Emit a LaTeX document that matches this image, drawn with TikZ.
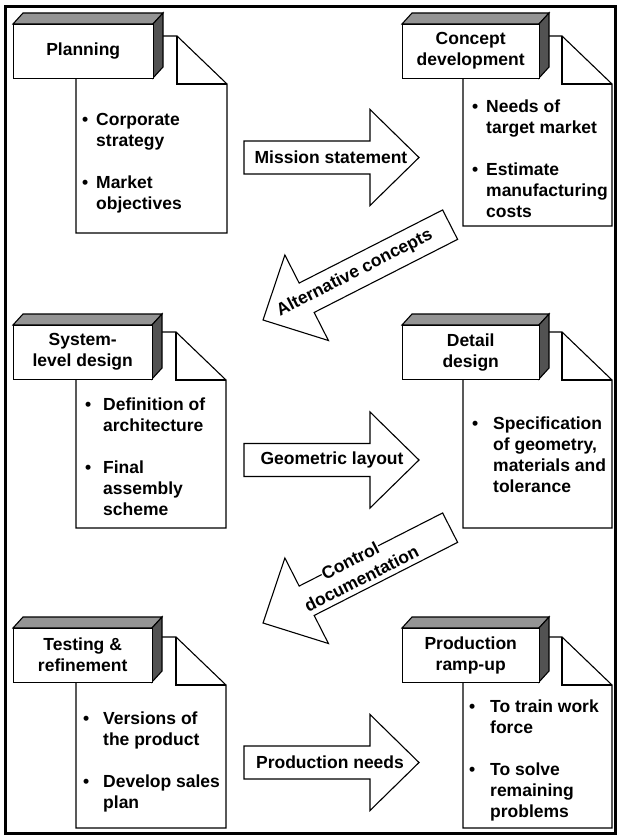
\documentclass[tikz,border=0pt]{standalone}
\usepackage{fontspec}
\setmainfont{Liberation Sans}
\newlength{\bulw}
\newcommand{\itm}[1]{\makebox[\bulw][l]{\textbullet}#1}
\newcommand{\cnt}[1]{\hspace*{\bulw}#1}
% stage: #1 name, #2/#3 front left/right, #4 front top, #5/#6 page left/right, #7 page top, #8 page bottom, #9 title
\newcommand{\stage}[9]{%
  \draw[edge, fill=white] (#5,#7) -- ({#6-50},#7) -- (#6,{#7+48}) -- (#6,#8) -- (#5,#8) -- cycle;
  \draw[edge] ({#6-50},#7) -- ({#6-50},{#7+48}) -- (#6,{#7+48});
  \draw[edge, fill=black!42] (#2,#4) -- ({#2+10},{#4-11}) -- ({#3+10},{#4-11}) -- (#3,#4) -- cycle;
  \draw[edge, fill=black!68] (#3,#4) -- ({#3+10},{#4-11}) -- ({#3+10},{#4+43}) -- (#3,{#4+54}) -- cycle;
  \node[ttl, draw, fill=white, minimum width={(#3-#2)*1pt}, minimum height=54pt, anchor=north west] (#1) at (#2,#4) {#9};
}
\begin{document}
\begin{tikzpicture}[x=1pt, y=-1pt, line join=miter,
  edge/.style={line width=1.1pt},
  ttl/.style={font=\fontsize{17.5}{21}\selectfont\bfseries, align=center, inner sep=0pt},
  lbl/.style={font=\fontsize{17.5}{21}\selectfont\bfseries, inner sep=0pt},
  blockarrow/.style={edge, fill=white}]
\useasboundingbox (0,0) rectangle (618,840);

% outer frame
\draw[line width=3.5pt] (5.5,6.5) rectangle (615.5,833.5);

% stages
\stage{plan}{13}{153}{24}{76}{227}{36}{233}{Planning}
\stage{concept}{402}{539}{24}{463}{612}{36}{226}{Concept\\development}
\stage{system}{13}{152}{325}{76}{226}{332}{528}{System-\\level design}
\stage{detail}{402}{539}{325}{463}{612}{332}{528}{Detail\\design}
\stage{testing}{13}{152}{628}{76}{226}{637}{828}{Testing \&\\refinement}
\stage{ramp}{402}{539}{628}{463}{612}{637}{828}{Production\\ramp-up}

% bullet lists
\node[lbl, anchor=base west] (planlist) at (82,125)
  {\setlength{\bulw}{14pt}\parbox[t]{150pt}{\itm{Corporate}\\\cnt{strategy}\\[21pt]\itm{Market}\\\cnt{objectives}}};
\node[lbl, anchor=base west] (conceptlist) at (472,112.5)
  {\setlength{\bulw}{14pt}\parbox[t]{150pt}{\itm{Needs of}\\\cnt{target market}\\[21pt]\itm{Estimate}\\\cnt{manufacturing}\\\cnt{costs}}};
\node[lbl, anchor=base west] (systemlist) at (85,410)
  {\setlength{\bulw}{18pt}\parbox[t]{150pt}{\itm{Definition of}\\\cnt{architecture}\\[21pt]\itm{Final}\\\cnt{assembly}\\\cnt{scheme}}};
\node[lbl, anchor=base west] (detaillist) at (472,429.5)
  {\setlength{\bulw}{21pt}\parbox[t]{150pt}{\itm{Specification}\\\cnt{of geometry,}\\\cnt{materials and}\\\cnt{tolerance}}};
\node[lbl, anchor=base west] (testinglist) at (83,724)
  {\setlength{\bulw}{20pt}\parbox[t]{150pt}{\itm{Versions of}\\\cnt{the product}\\[21pt]\itm{Develop sales}\\\cnt{plan}}};
\node[lbl, anchor=base west] (ramplist) at (469,712.5)
  {\setlength{\bulw}{21pt}\parbox[t]{150pt}{\itm{To train work}\\\cnt{force}\\[21pt]\itm{To solve}\\\cnt{remaining}\\\cnt{problems}}};

% horizontal block arrows (tip at origin, body to the left)
\begin{scope}[shift={(419,157.5)}, rotate=180]
  \draw[blockarrow] (0,0) -- (49,-48) -- (49,-16.5) -- (175,-16.5) -- (175,16.5) -- (49,16.5) -- (49,48) -- cycle;
  \node[lbl] (mission) at (88,0) {Mission statement};
\end{scope}
\begin{scope}[shift={(419,460)}, rotate=180]
  \draw[blockarrow] (0,0) -- (49,-48) -- (49,-16.5) -- (175,-16.5) -- (175,16.5) -- (49,16.5) -- (49,48) -- cycle;
  \node[lbl] (geometric) at (87,0) {Geometric layout};
\end{scope}
\begin{scope}[shift={(419,762.5)}, rotate=180]
  \draw[blockarrow] (0,0) -- (49,-48) -- (49,-16.5) -- (175,-16.5) -- (175,16.5) -- (49,16.5) -- (49,48) -- cycle;
  \node[lbl] (prodneeds) at (89,0) {Production needs};
\end{scope}

% diagonal block arrows (tip at origin, body up to the right)
\begin{scope}[shift={(263,320)}, rotate=27]
  \draw[blockarrow] (0,0) -- (49,-48) -- (49,-16.5) -- (210,-16.5) -- (210,16.5) -- (49,16.5) -- (49,48) -- cycle;
  \node[lbl, rotate=27] (altconcepts) at (103,0) {Alternative concepts};
\end{scope}
\begin{scope}[shift={(263,623)}, rotate=27]
  \draw[blockarrow] (0,0) -- (49,-48) -- (49,-16.5) -- (210,-16.5) -- (210,16.5) -- (49,16.5) -- (49,48) -- cycle;
  % the two label lines sit on white, breaking the outline where they cross it
  \node[lbl, rotate=27, fill=white, inner sep=0.5pt] (controlword) at (106,-16) {Control};
  \node[lbl, rotate=27, fill=white, inner sep=0.5pt] (docword) at (108,5) {documentation};
\end{scope}
\end{tikzpicture}
\end{document}
